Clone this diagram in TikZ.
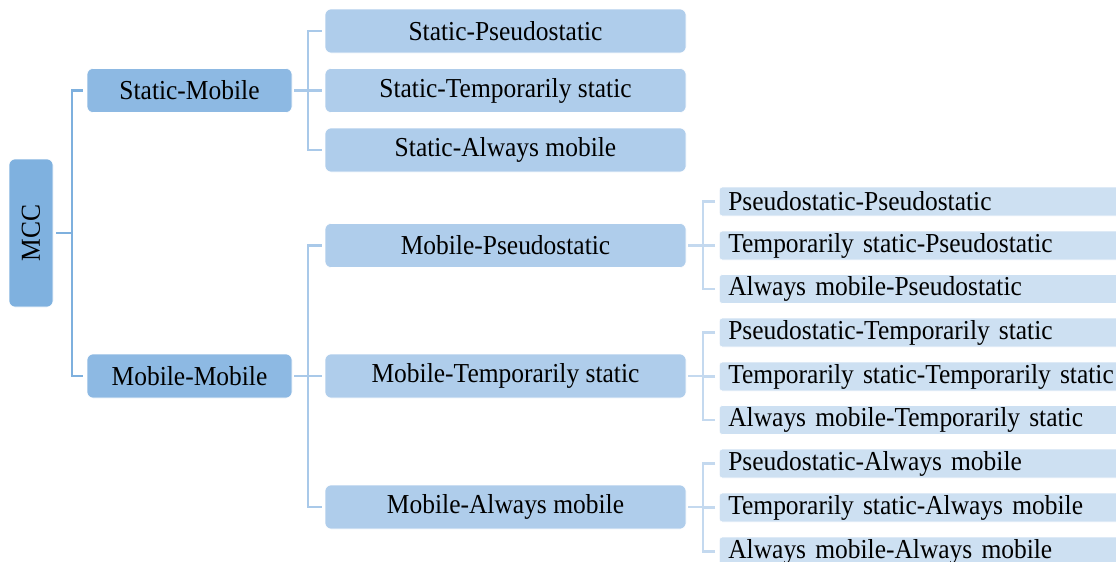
\documentclass[tikz,border=0pt]{standalone}
\usepackage{fontspec}
\setmainfont{Liberation Serif}[FakeStretch=0.93]
\definecolor{rootfill}{HTML}{7FB1DF}
\definecolor{onefill}{HTML}{8DB9E3}
\definecolor{twofill}{HTML}{AFCDEB}
\definecolor{threefill}{HTML}{CDE0F2}
\definecolor{oneline}{HTML}{7EB0DE}
\definecolor{twoline}{HTML}{A9C9E9}
\definecolor{threeline}{HTML}{C4D9EF}
\begin{document}
\begin{tikzpicture}[x=1pt,y=-1pt,
  every node/.style={font=\fontsize{27.4}{32}\selectfont, text=black, inner sep=0pt},
  rootbox/.style={fill=rootfill, draw=white, line width=0.6pt, rounded corners=6pt,
    minimum width=44pt, minimum height=148pt},
  onebox/.style={fill=onefill, draw=white, line width=0.6pt, rounded corners=6pt,
    minimum width=205pt, minimum height=44pt},
  twobox/.style={fill=twofill, draw=white, line width=0.6pt, rounded corners=6pt,
    minimum width=361pt, minimum height=44pt},
  threebox/.style={fill=threefill, draw=white, line width=0.6pt, rounded corners=3pt,
    minimum width=420pt, minimum height=29pt, anchor=west, text width=402pt,
    align=left, inner xsep=9pt},
  conna/.style={draw=oneline, line width=2.1pt},
  connb/.style={draw=twoline, line width=2.1pt},
  connc/.style={draw=threeline, line width=2.1pt}]
\path[use as bounding box] (0,0) rectangle (1116,562);
\clip (0,0) rectangle (1116,562);

% root
\node[rootbox] (mcc) at (31,233) {\rotatebox{90}{MCC}};

% first level
\node[onebox] (sm) at (189.5,90.5) {Static-Mobile};
\node[onebox] (mm) at (189.5,376) {Mobile-Mobile};

% second level
\node[twobox] (sp) at (505.5,31)   {Static-Pseudostatic};
\node[twobox] (st) at (505.5,90.5) {Static-Temporarily static};
\node[twobox] (sa) at (505.5,150)  {Static-Always mobile};
\node[twobox] (mp) at (505.5,245.5) {Mobile-Pseudostatic};
\node[twobox] (mt) at (505.5,376)  {Mobile-Temporarily static};
\node[twobox] (ma) at (505.5,507)  {Mobile-Always mobile};

% third level
\node[threebox] (pp) at (719,201.5) {Pseudostatic-Pseudostatic};
\node[threebox] (tp) at (719,245.5) {Temporarily static-Pseudostatic};
\node[threebox] (ap) at (719,289)   {Always mobile-Pseudostatic};
\node[threebox] (pt) at (719,332.5) {Pseudostatic-Temporarily static};
\node[threebox] (tt) at (719,376.5) {Temporarily static-Temporarily static};
\node[threebox] (at) at (719,420)   {Always mobile-Temporarily static};
\node[threebox] (pa) at (719,463.5) {Pseudostatic-Always mobile};
\node[threebox] (ta) at (719,507.5) {Temporarily static-Always mobile};
\node[threebox] (aa) at (719,551.5) {Always mobile-Always mobile};

% root to first level
\draw[conna] ([xshift=3pt]mcc.east) -- ++(16,0) coordinate (jr);
\draw[conna] ([xshift=-4pt]sm.west) -| (jr);
\draw[conna] ([xshift=-4pt]mm.west) -| (jr);

% first to second level
\draw[connb] ([xshift=2pt]sm.east) -- ++(14,0) coordinate (js);
\foreach \c in {sp,st,sa} \draw[connb] ([xshift=-3pt]\c.west) -| (js);
\draw[connb] ([xshift=2pt]mm.east) -- ++(14,0) coordinate (jm);
\foreach \c in {mp,mt,ma} \draw[connb] ([xshift=-3pt]\c.west) -| (jm);

% second to third level
\draw[connc] ([xshift=2pt]mp.east) -- ++(15,0) coordinate (jp);
\foreach \c in {pp,tp,ap} \draw[connc] ([xshift=-4pt]\c.west) -| (jp);
\draw[connc] ([xshift=2pt]mt.east) -- ++(15,0) coordinate (jt);
\foreach \c in {pt,tt,at} \draw[connc] ([xshift=-4pt]\c.west) -| (jt);
\draw[connc] ([xshift=2pt]ma.east) -- ++(15,0) coordinate (ja);
\foreach \c in {pa,ta,aa} \draw[connc] ([xshift=-4pt]\c.west) -| (ja);
\end{tikzpicture}
\end{document}
